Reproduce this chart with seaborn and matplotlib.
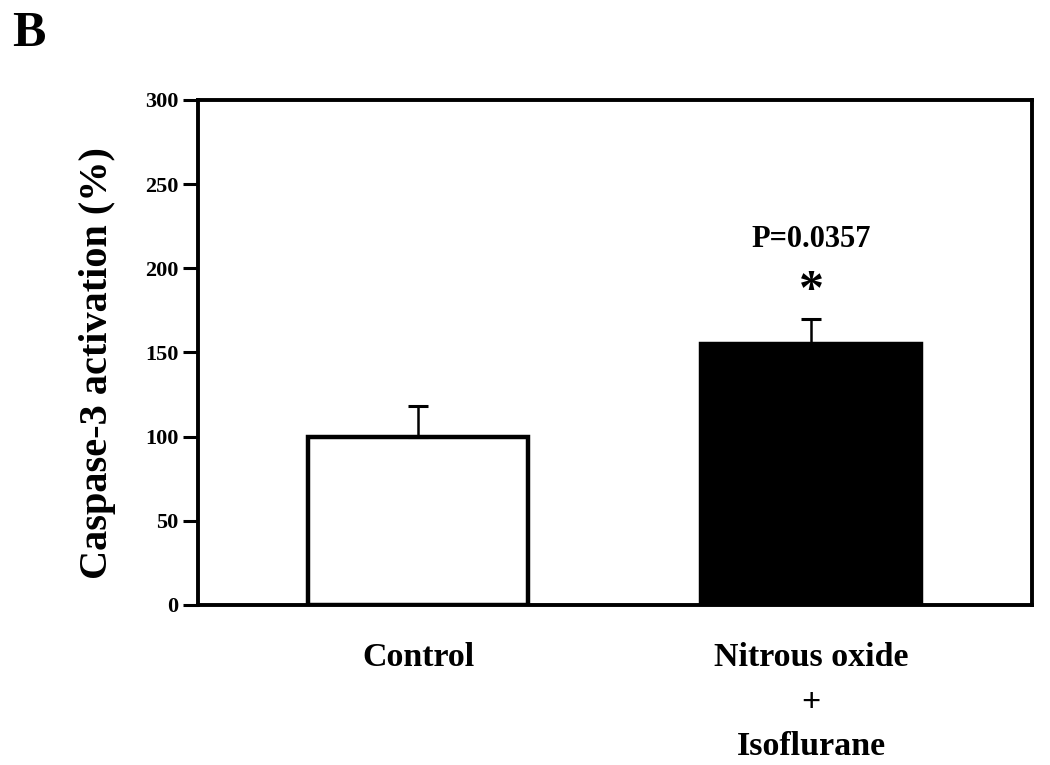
import numpy as np
import pandas as pd
import matplotlib
matplotlib.use('Agg')
import matplotlib.pyplot as plt
import seaborn as sns

# данные
groups = ['Control', 'Nitrous oxide\n+\nIsoflurane']
values = [100, 155]
errors = [18, 15]
bar_colors = ['white', 'black']
y_ticks = [0, 50, 100, 150, 200, 250, 300]
p_text = 'P=0.0357'

sns.set_style('white')
plt.rcParams['font.family'] = ['Liberation Serif', 'DejaVu Serif']
plt.rcParams['font.weight'] = 'bold'
for k in ['text.color', 'axes.labelcolor', 'xtick.color', 'ytick.color']:
    plt.rcParams[k] = 'black'

df = pd.DataFrame({'group': groups, 'value': values})

fig = plt.figure(figsize=(10.5, 7.65), dpi=100)
ax = fig.add_axes([0.1886, 0.2092, 0.7943, 0.6601])

sns.barplot(data=df, x='group', y='value', hue='group', palette=bar_colors,
            edgecolor='black', linewidth=3.2, width=0.56, errorbar=None,
            legend=False, ax=ax)

# только верхняя часть погрешности
xpos = ax.get_xticks()
ax.errorbar(xpos, values, yerr=[np.zeros(len(errors)), errors], fmt='none',
            ecolor='black', elinewidth=1.8, capsize=7, capthick=2.2, zorder=1)

ax.set_xlim(-0.56, 1.562)
ax.set_ylim(0, 300)
ax.set_yticks(y_ticks)
ax.set_yticklabels([str(t) for t in y_ticks], fontsize=16, fontweight='bold')
ax.set_xticks(xpos)
ax.set_xticklabels(groups, fontsize=24.5, fontweight='bold', linespacing=1.55)
ax.tick_params(axis='x', length=0, pad=27)
ax.tick_params(axis='y', direction='out', length=11, width=2.2, pad=3, left=True)
ax.set_xlabel('')
ax.set_ylabel('Caspase-3 activation (%)', fontsize=29, fontweight='bold')
ax.yaxis.set_label_coords(-0.098, 0.48)

for s in ax.spines.values():
    s.set_linewidth(2.8)
    s.set_color('black')

# аннотации значимости
ax.text(xpos[1], 217, p_text, ha='center', va='center', fontsize=22, fontweight='bold')
ax.text(xpos[1], 186, '*', ha='center', va='center', fontsize=36, fontweight='bold')

fig.text(0.012, 0.955, 'B', fontsize=36, fontweight='bold', ha='left', va='center')

fig.savefig('out.png', dpi=100)
